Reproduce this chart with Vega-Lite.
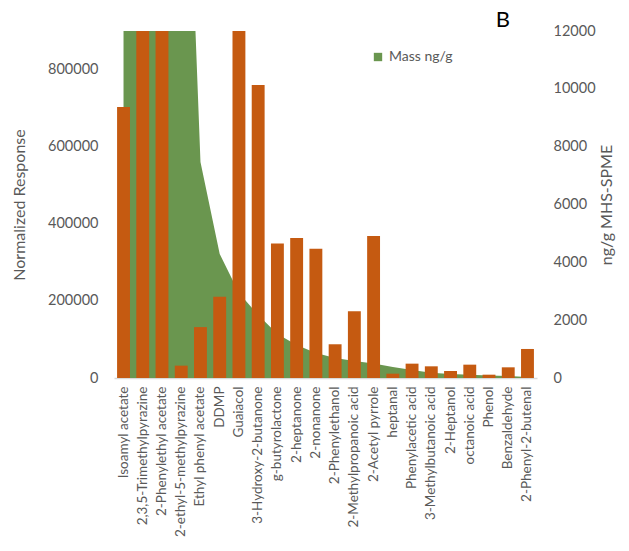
{
  "$schema": "https://vega.github.io/schema/vega-lite/v6.json",
  "width": 423,
  "height": 347,
  "autosize": {"type": "none"},
  "padding": {"left": 114, "top": 31, "right": 92, "bottom": 173},
  "background": "white",
  "config": {
    "view": {"stroke": null},
    "font": "Lato",
    "axis": {"labelColor": "#595959", "titleColor": "#595959", "grid": false, "ticks": false, "labelFont": "Lato", "titleFont": "Lato", "titleFontWeight": "normal"}
  },
  "title": {"text": "B", "anchor": "end", "frame": "group", "fontSize": 22, "fontWeight": "normal", "color": "black", "dx": -27, "dy": 26, "offset": 0, "baseline": "alphabetic", "font": "Lato"},
  "data": {
    "values": [
      {"compound": "Isoamyl acetate", "response": 703000, "mass": 40000},
      {"compound": "2,3,5-Trimethylpyrazine", "response": 1200000, "mass": 35000},
      {"compound": "2-Phenylethyl acetate", "response": 1500000, "mass": 30000},
      {"compound": "2-ethyl-5-methylpyrazine", "response": 32000, "mass": 24900},
      {"compound": "Ethyl phenyl acetate", "response": 132000, "mass": 7470},
      {"compound": "DDMP", "response": 211000, "mass": 4290},
      {"compound": "Guaiacol", "response": 1000000, "mass": 2940},
      {"compound": "3-Hydroxy-2-butanone", "response": 760000, "mass": 2180},
      {"compound": "g-butyrolactone", "response": 349000, "mass": 1520},
      {"compound": "2-heptanone", "response": 363000, "mass": 1140},
      {"compound": "2-nonanone", "response": 335000, "mass": 865},
      {"compound": "2-Phenylethanol", "response": 87500, "mass": 690},
      {"compound": "2-Methylpropanoic acid", "response": 173000, "mass": 590},
      {"compound": "2-Acetyl pyrrole", "response": 368000, "mass": 500},
      {"compound": "heptanal", "response": 11200, "mass": 380},
      {"compound": "Phenylacetic acid", "response": 37200, "mass": 277},
      {"compound": "3-Methylbutanoic acid", "response": 30300, "mass": 180},
      {"compound": "2-Heptanol", "response": 18200, "mass": 138},
      {"compound": "octanoic acid", "response": 34600, "mass": 110},
      {"compound": "Phenol", "response": 8600, "mass": 86},
      {"compound": "Benzaldehyde", "response": 27700, "mass": 70},
      {"compound": "2-Phenyl-2-butenal", "response": 75300, "mass": 35}
    ]
  },
  "encoding": {
    "x": {
      "field": "compound", "type": "nominal", "sort": null,
      "scale": {"paddingInner": 0.33, "paddingOuter": 0.16},
      "axis": {"title": null, "labelAngle": -90, "labelFontSize": 13.5, "labelPadding": 8, "labelLimit": 200, "domainColor": "#d9d9d9", "domainWidth": 1.5}
    }
  },
  "layer": [
    {
      "mark": {"type": "area", "clip": true, "color": "#6a964f"},
      "encoding": {
        "x": {"field": "compound", "type": "nominal", "sort": null, "bandPosition": 0.5},
        "y": {
          "field": "mass", "type": "quantitative",
          "scale": {"domain": [0, 12000], "nice": false},
          "axis": {"orient": "right", "title": "ng/g MHS-SPME", "titleAngle": -90, "values": [0, 2000, 4000, 6000, 8000, 10000, 12000], "format": "d", "labelFontSize": 14.5, "titleFontSize": 16, "labelPadding": 16, "titlePadding": 19, "domain": false}
        },
        "color": {
          "datum": "Mass ng/g", "type": "nominal",
          "scale": {"range": ["#6a964f"]},
          "legend": {"title": null, "orient": "none", "legendX": 257, "legendY": 19, "symbolType": "square", "symbolSize": 70, "symbolStrokeWidth": 0, "symbolOpacity": 1, "labelFontSize": 14, "labelColor": "#595959", "labelFont": "Lato"}
        }
      }
    },
    {
      "mark": {"type": "bar", "clip": true, "color": "#c55a11"},
      "encoding": {
        "y": {
          "field": "response", "type": "quantitative",
          "scale": {"domain": [0, 900000], "nice": false},
          "axis": {"orient": "left", "title": "Normalized Response", "values": [0, 200000, 400000, 600000, 800000], "format": "d", "labelFontSize": 14.5, "titleFontSize": 16, "labelPadding": 16, "titlePadding": 20, "domain": false}
        }
      }
    }
  ],
  "resolve": {"scale": {"y": "independent"}}
}
